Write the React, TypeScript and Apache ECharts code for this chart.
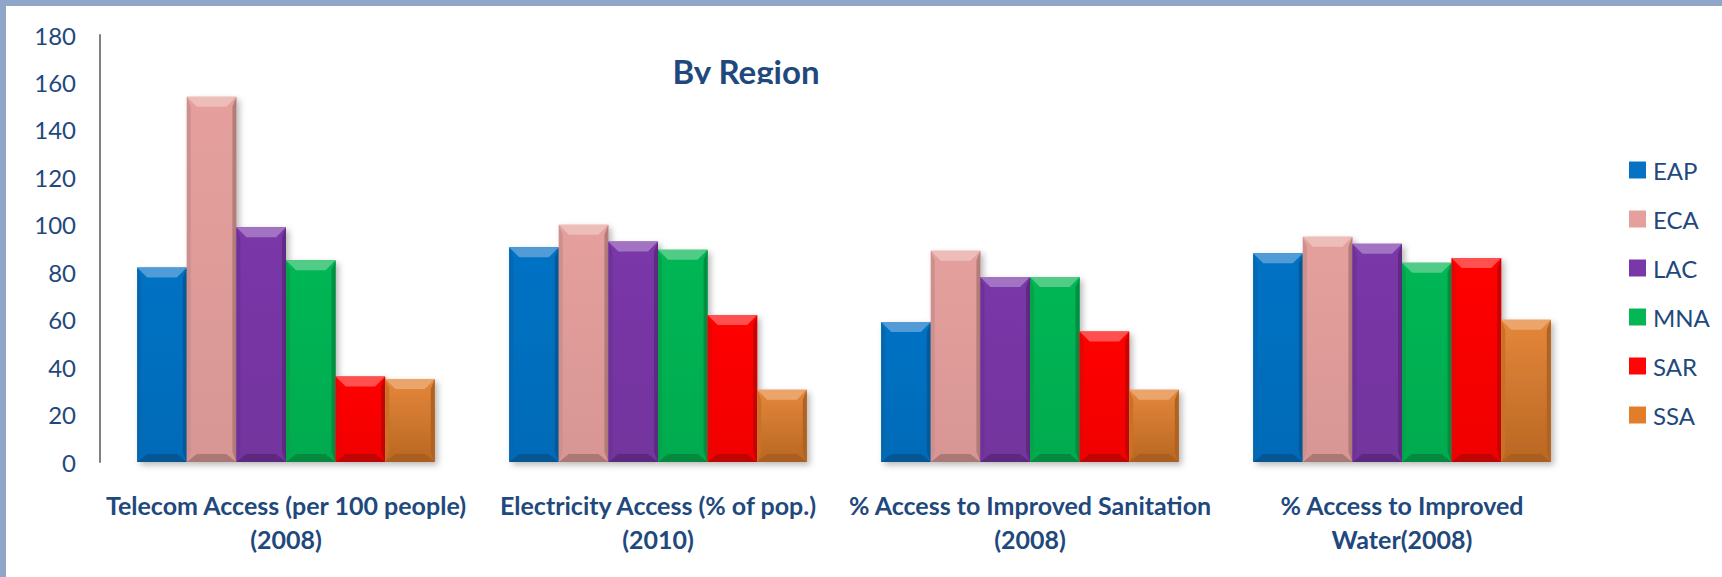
import React, { useEffect, useRef } from "react";
import * as echarts from "echarts";

const categories = [
  "Telecom Access (per 100 people)\n(2008)",
  "Electricity Access (% of pop.)\n(2010)",
  "% Access to Improved Sanitation\n(2008)",
  "% Access to Improved\nWater(2008)",
];
const regions = ["EAP", "ECA", "LAC", "MNA", "SAR", "SSA"];
const eap = [82, 90.5, 59, 88];
const eca = [154, 100, 89, 95];
const lac = [99, 93, 78, 92];
const mna = [85, 89.5, 78, 84];
const sar = [36, 62, 55, 86];
const ssa = [35, 30.5, 30.5, 60];
const seriesValues = [eap, eca, lac, mna, sar, ssa];
const colors = ["#0672C4", "#E5A09D", "#7A37A8", "#05B654", "#FF0505", "#E27D2A"];
const yMin = 0;
const yMax = 180;
const yInterval = 20;
const title = "By Region";

const TEXT = "#1F497D";
const FONT = "Lato, 'Open Sans', sans-serif";

function mix(hex: string, target: string, t: number) {
  const p = (h: string) => [1, 3, 5].map((i) => parseInt(h.slice(i, i + 2), 16));
  const a = p(hex);
  const b = p(target);
  const c = a.map((v, i) => Math.round(v + (b[i] - v) * t));
  return "rgb(" + c.join(",") + ")";
}

function makeRender(idx: number, color: string) {
  const n = regions.length;
  return (params: any, api: any) => {
    const ci = api.value(0);
    const v = api.value(1);
    const p0 = api.coord([ci, 0]);
    const p1 = api.coord([ci, v]);
    const band = api.size([1, 0])[0];
    const w = (band * 0.8) / n;
    const x = p0[0] - band * 0.4 + idx * w;
    const y = p1[1];
    const h = p0[1] - p1[1];
    const bt = Math.min(10, h / 2);
    const bs = Math.min(4, w / 4);
    const isSSA = regions[idx] === "SSA";
    const baseFill = new echarts.graphic.LinearGradient(0, 0, 0, 1, [
      { offset: 0, color: isSSA ? mix(color, "#ffffff", 0.08) : color },
      { offset: 1, color: isSSA ? mix(color, "#000000", 0.18) : mix(color, "#000000", 0.06) },
    ]);
    return {
      type: "group",
      children: [
        {
          type: "rect",
          shape: { x, y, width: w, height: h },
          style: {
            fill: baseFill,
            shadowBlur: 6,
            shadowOffsetX: 3,
            shadowOffsetY: 3,
            shadowColor: "rgba(0,0,0,0.28)",
          },
        },
        {
          type: "polygon",
          shape: { points: [[x, y], [x + bs, y + bt], [x + bs, y + h - bt], [x, y + h]] },
          style: { fill: mix(color, "#000000", 0.1) },
        },
        {
          type: "polygon",
          shape: { points: [[x + w, y], [x + w - bs, y + bt], [x + w - bs, y + h - bt], [x + w, y + h]] },
          style: { fill: mix(color, "#000000", 0.22) },
        },
        {
          type: "polygon",
          shape: { points: [[x, y], [x + w, y], [x + w - bt, y + bt], [x + bt, y + bt]] },
          style: { fill: mix(color, "#ffffff", 0.3) },
        },
        {
          type: "polygon",
          shape: { points: [[x, y + h], [x + w, y + h], [x + w - bt, y + h - bt * 0.8], [x + bt, y + h - bt * 0.8]] },
          style: { fill: mix(color, "#000000", 0.25) },
        },
      ],
    };
  };
}

export default function App() {
  const ref = useRef<HTMLDivElement>(null);
  useEffect(() => {
    if (!ref.current) return;
    const chart = echarts.init(ref.current, undefined, { renderer: "svg" });
    chart.setOption({
      animation: false,
      backgroundColor: "#ffffff",
      grid: { left: 100, right: 134, top: 35, bottom: 115, containLabel: false },
      legend: {
        orient: "vertical",
        left: 1629,
        top: 158,
        padding: 0,
        icon: "rect",
        itemWidth: 17,
        itemHeight: 17,
        itemGap: 25,
        data: regions,
        textStyle: { fontSize: 24, lineHeight: 24, color: TEXT, fontFamily: FONT, padding: [0, 0, 0, 2] },
      },
      xAxis: {
        type: "category",
        data: categories,
        axisLine: {
          lineStyle: {
            color: "#808080",
            width: 2.5,
            shadowColor: "rgba(0,0,0,0.3)",
            shadowBlur: 4,
            shadowOffsetY: 3,
          },
        },
        axisTick: { show: false },
        axisLabel: {
          interval: 0,
          margin: 26,
          fontSize: 25,
          fontWeight: "bold",
          lineHeight: 34,
          color: TEXT,
          fontFamily: FONT,
        },
        splitLine: { show: false },
      },
      yAxis: {
        type: "value",
        min: yMin,
        max: yMax,
        interval: yInterval,
        axisLine: { show: true, lineStyle: { color: "#808080", width: 2 } },
        axisTick: { show: false },
        splitLine: { show: false },
        axisLabel: { fontSize: 24, color: TEXT, fontFamily: FONT, margin: 24 },
      },
      series: regions.map((name, i) => ({
        type: "custom",
        name,
        itemStyle: { color: colors[i] },
        encode: { x: 0, y: 1 },
        data: seriesValues[i].map((v, ci) => [ci, v]),
        renderItem: makeRender(i, colors[i]),
      })),
      graphic: [
        {
          type: "text",
          x: 746,
          y: 71,
          z: 100,
          style: {
            text: title,
            fill: TEXT,
            font: "bold 33px " + FONT,
            textAlign: "center",
            textVerticalAlign: "middle",
          },
        },
        { type: "rect", z: 101, shape: { x: 655, y: 84, width: 185, height: 10 }, style: { fill: "#ffffff" } },
        { type: "rect", z: 102, shape: { x: 0, y: 0, width: 1722, height: 6 }, style: { fill: "#8FA5C9" } },
        { type: "rect", z: 102, shape: { x: 0, y: 0, width: 6, height: 577 }, style: { fill: "#8FA5C9" } },
      ],
    });
    return () => chart.dispose();
  }, []);
  return (
    <div
      ref={ref}
      style={{ position: "absolute", left: 0, top: 0, width: 1722, height: 577 }}
    />
  );
}
